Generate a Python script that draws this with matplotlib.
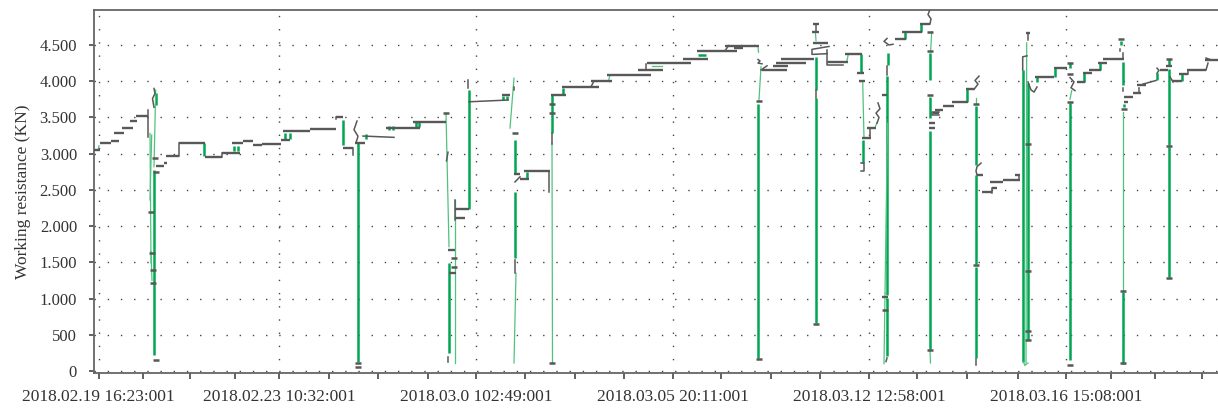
import matplotlib
matplotlib.use("Agg")
import matplotlib.pyplot as plt

# ---------------- data (x = record number, y = working resistance in KN) ----------------
x_tick_labels = ["2018.02.19 16:23:001", "2018.02.23 10:32:001", "2018.03.0 102:49:001",
                 "2018.03.05 20:11:001", "2018.03.12 12:58:001", "2018.03.16 15:08:001"]
x_major = [4.5, 185, 382, 579, 775, 972]
x_minor = [49, 96, 141, 235, 284, 334, 431, 481, 530, 627, 677, 726, 823, 873, 924, 1017, 1061, 1108]
y_ticks = [0, 500, 1000, 1500, 2000, 2500, 3000, 3500, 4000, 4500]
y_tick_labels = ["0", "500", "1.000", "1.500", "2.000", "2.500", "3.000", "3.500", "4.000", "4.500"]

# constant-resistance stretches (start record, end record, KN)
levels = [
    (0, 6, 3050), (6, 17, 3142), (17, 25, 3178), (20, 30, 3289), (28, 39, 3358), (36, 43, 3450),
    (42, 54, 3520),
    (62, 70, 2830), (70, 73, 2870), (72, 85, 2971), (85, 111, 3142), (111, 128, 2957), (128, 146, 3013),
    (138, 149, 3142), (149, 159, 3178), (159, 168, 3119), (168, 187, 3130), (187, 196, 3188),
    (189, 216, 3312), (216, 242, 3335), (242, 249, 3510), (249, 259, 3073), (261, 271, 3142),
    (292, 326, 3358), (319, 352, 3441),
    (354, 361, 1670), (355, 362, 1352), (361, 371, 2107), (361, 375, 2236), (408, 416, 3809),
    (420, 426, 2713), (426, 435, 2650), (430, 456, 2764),
    (457, 472, 3809), (468, 505, 3924), (497, 518, 4002), (513, 557, 4089), (544, 569, 4158),
    (553, 597, 4255), (589, 614, 4310), (603, 643, 4420), (631, 665, 4485), (640, 649, 4465),
    (668, 693, 4154), (679, 694, 4213), (682, 712, 4255), (687, 720, 4306),
    (718.5, 724.5, 4790), (718, 725, 4683), (719, 734, 4530), (733, 754, 4268), (751, 768, 4370),
    (763, 770, 4108), (765, 771, 4006), (768, 777, 3211), (773, 782, 3358),
    (788, 793, 3809), (787.5, 794, 1025), (801, 812, 4580), (808, 828, 4683), (826, 836, 4790),
    (835, 841, 3420), (835, 841, 3360), (839, 845, 3556), (841, 849, 3600), (849, 860, 3657),
    (858, 874, 3716), (872, 880, 3887), (882.5, 889, 2705), (888, 898, 2475), (898, 903, 2521),
    (896, 909, 2612), (909, 926, 2636), (921, 926, 2700), (932, 935.5, 4660),
    (941, 960, 4060), (960, 973, 4188),
    (983, 991, 3995), (989, 998, 4108), (995, 1007, 4154), (1004, 1013, 4255), (1009, 1030, 4306),
    (1030, 1034, 3716), (1030, 1039, 3776), (1039, 1047, 3844), (1043, 1052, 3941),
    (1066, 1074, 4154), (1072, 1078, 4209), (1078, 1088, 4002), (1085, 1094, 4094),
    (1093, 1112, 4154), (1111, 1124, 4292),
]

# irregular grey traces (records, KN)
grey_traces = [
    [(54, 3230), (54, 3600)],
    [(60, 3640), (58.5, 3760), (61, 3830), (60, 3900)],
    [(85, 2971), (85, 3142)], [(128, 2957), (128, 3013)], [(242, 3473), (242, 3510)],
    [(259, 2980), (259, 3073)],
    [(263, 3450), (260, 3330), (264, 3240), (262, 3150)],
    [(269, 3243), (300, 3225)],
    [(352.5, 2900), (354, 3020)], [(353.5, 120), (353.5, 190)],
    [(361, 2084), (361, 2360)], [(374, 3905), (374, 4016)], [(375, 3716), (414, 3740)],
    [(420, 3880), (420, 3920)], [(421, 2610), (426, 2680)], [(455, 2475), (455, 2764)],
    [(421, 1350), (421, 1530)], [(458, 3140), (458, 3285)],
    [(497, 3924), (500, 4002)], [(552, 4158), (552, 4240)], [(631, 4420), (634, 4480)],
    [(664, 4300), (666, 4280), (664, 4250), (668, 4240)], [(667, 4154), (673, 4213)],
    [(721.7, 4700), (721.7, 4790)], [(735, 4480), (718, 4440), (718, 4370), (733, 4380)],
    [(721.7, 3770), (721.7, 3880)],
    [(733.3, 4430), (733.3, 4220), (749, 4220)],
    [(767, 2870), (769.5, 2870), (769.5, 2760), (767, 2760)], [(776, 3211), (776, 3358)],
    [(783, 3420), (785, 3500), (782, 3560), (786, 3620), (784, 3700)],
    [(793, 4590), (790, 4550), (795, 4500), (799, 4510)], [(793.3, 4085), (793.3, 4210)],
    [(792, 130), (793, 180)],
    [(836, 4790), (837, 4860), (834, 4920), (836, 4990)],
    [(845, 3530), (838, 3530), (838, 3580), (845, 3580)],
    [(880, 3887), (884, 3960), (881, 4010), (885, 4070)],
    [(887, 2870), (883, 2820), (882, 2760), (883, 2705)], [(882, 83), (882, 160)],
    [(897.7, 2460), (897.7, 2521)], [(925.3, 2636), (925.3, 2700)],
    [(933.7, 4570), (933.7, 4660)], [(928.7, 4154), (928.7, 4337), (933, 4350)],
    [(934, 3990), (937, 3880), (940, 3850), (943, 3920)],
    [(976, 4050), (980, 3990), (977, 3910), (981, 3870)],
    [(1029, 4306), (1029, 4383)], [(1026, 4416), (1026, 4450)], [(1029.3, 3860), (1029.3, 3905)],
    [(1045.3, 3844), (1045.3, 3910)], [(1049, 3960), (1062, 4010)],
    [(1063, 4110), (1065, 4150), (1063, 4180)], [(1076, 4060), (1079, 3990)],
    [(1094.3, 4094), (1094.3, 4154)], [(1112, 4154), (1114, 4250)], [(1112, 4320), (1116, 4300)],
]

# green rises / falls drawn bold (start, end) as (records, KN)
green_bold = [
    ((60, 220), (60, 2770)), ((62, 3670), (62, 3840)), ((110, 2971), (110, 3142)),
    ((140, 3040), (140, 3110)), ((144, 3040), (144, 3110)), ((191, 3200), (191, 3290)),
    ((196, 3200), (196, 3290)), ((249, 3119), (249, 3464)), ((264, 130), (264, 3142)),
    ((272, 3200), (272, 3270)), ((295, 3330), (295, 3380)), ((299, 3330), (299, 3380)),
    ((322, 3370), (322, 3440)), ((325, 3370), (325, 3440)),
    ((355, 250), (355, 1490)), ((375, 2236), (375, 3878)), ((409, 3740), (409, 3800)),
    ((413, 3740), (413, 3800)), ((421, 2730), (421, 3188)), ((432.7, 2660), (432.7, 2740)),
    ((421, 1555), (421, 2475)), ((458, 3285), (458, 3810)), ((469, 3809), (469, 3900)),
    ((604, 4365), (612, 4365)),
    ((664, 180), (664, 3690)), ((721.7, 3880), (721.7, 4337)), ((721.7, 662), (721.7, 3770)),
    ((767, 4108), (767, 4370)), ((769.3, 2870), (769.3, 3190)),
    ((793.7, 4220), (793.7, 4390)), ((793.3, 1050), (793.3, 4070)), ((793, 200), (793, 1007)),
    ((810.7, 4580), (810.7, 4683)), ((826.7, 4683), (826.7, 4790)),
    ((836, 4015), (836, 4390)), ((836, 3490), (836, 3785)), ((836, 300), (836, 3312)),
    ((872.7, 3716), (872.7, 3887)), ((882, 2843), (882, 3657)), ((882, 1480), (882, 2705)),
    ((882, 180), (882, 1440)),
    ((929, 124), (929, 4154)), ((933.7, 430), (933.7, 3970)),
    ((942.7, 3990), (942.7, 4060)), ((961, 4060), (961, 4188)),
    ((976, 4180), (976, 4255)), ((976, 150), (976, 3694)),
    ((990, 3995), (990, 4108)), ((1006, 4154), (1006, 4255)), ((1027, 4500), (1027, 4560)),
    ((1029.3, 3947), (1029.3, 4270)), ((1030, 3640), (1030, 3680)), ((1029.3, 100), (1029.3, 1090)),
    ((1062.7, 4020), (1062.7, 4110)),
    ((1075.3, 4230), (1075.3, 4310)), ((1075.3, 3119), (1075.3, 4170)), ((1075.3, 1300), (1075.3, 3090)),
    ((1088.3, 4002), (1088.3, 4094)),
]

# fast transitions drawn thin (start, end) as (records, KN)
green_thin = [
    ((4, 3050), (5, 3110)), ((56, 3280), (57, 1490)), ((61.7, 3878), (60, 2820)),
    ((57.7, 3257), (56, 2360)), ((58, 1250), (57, 1650)),
    ((352, 3556), (355, 1715)), ((361, 110), (361, 2360)),
    ((416, 3353), (420, 4043)), ((422, 1350), (420, 110)),
    ((458, 3142), (458.5, 110)), ((514.5, 4002), (516, 4089)), ((558, 4213), (568, 4213)),
    ((664, 4480), (664.5, 4400)), ((667, 4200), (665, 3740)),
    ((722, 4560), (721.5, 4660)), ((752.7, 4268), (754.3, 4370)),
    ((768.7, 3995), (770, 3210)), ((781, 3358), (782.7, 3420)),
    ((793.5, 3420), (791, 1072)), ((791, 1072), (790, 100)),
    ((837.7, 4683), (836.7, 4430)), ((836, 290), (836.5, 110)),
    ((882, 3770), (882, 3700)),
    ((932.7, 4530), (932, 110)), ((929, 130), (931, 80)), ((931, 80), (934, 110)),
    ((977.7, 3870), (976, 3750)), ((1029.3, 3580), (1029.3, 1120)),
]

# short grey marks (records, KN)
mark_x = [61, 62, 62, 57, 58, 59, 59, 264, 264, 352, 360, 360, 421, 458, 458, 458, 664.5, 664.5,
          721.7, 836, 836, 836, 882, 882, 933.7, 933.7, 933.7, 933.7, 976, 976, 976, 976,
          1027, 1029.5, 1029.3, 1029.3, 1075.3, 1075.3, 1075.3, 836, 791]
mark_y = [2934, 2750, 150, 2198, 1628, 1394, 1214, 110, 55, 3560, 1560, 1435, 3280, 3560, 3685, 110,
          3730, 165, 650, 4683, 4415, 290, 3680, 1463, 3140, 1385, 550, 428, 4100, 3707, 83, 4255,
          4580, 3616, 1108, 105, 4306, 3105, 1283, 3809, 840]

# ---------------- drawing ----------------
W, H, DPI = 1218, 413, 100
grey = "#585858"
green = "#00a651"
light_green = "#4fc27e"
font = "Liberation Serif"

fig = plt.figure(figsize=(W / DPI, H / DPI), dpi=DPI)
ax = fig.add_axes([94 / W, 1 - 373 / H, (W - 94) / W, (373 - 10) / H])

for x0, x1, v in levels:
    ax.plot([x0, x1], [v, v], color=grey, lw=1.7, solid_capstyle="butt", zorder=3)
for tr in grey_traces:
    ax.plot([p[0] for p in tr], [p[1] for p in tr], color=grey, lw=1.1, zorder=3)
for (x0, y0), (x1, y1) in green_bold:
    ax.plot([x0, x1], [y0, y1], color=green, lw=1.8, solid_capstyle="butt", zorder=2)
for (x0, y0), (x1, y1) in green_thin:
    ax.plot([x0, x1], [y0, y1], color=light_green, lw=0.9, zorder=2)
ax.plot(mark_x, mark_y, linestyle="none", marker="_", ms=5, mew=1.8, color=grey, zorder=4)

ax.set_xlim(0, 1124)
ax.set_ylim(-28, 4983)

ax.set_xticks(x_major)
ax.set_xticklabels(x_tick_labels, fontfamily=font, fontsize=12.5, color="#333333")
ax.set_xticks(x_minor, minor=True)
ax.set_yticks(y_ticks)
ax.set_yticklabels(y_tick_labels, fontfamily=font, fontsize=12, color="#333333")
ax.tick_params(axis="x", which="both", direction="out", length=4.3, width=1.3, color="#555555", pad=7)
ax.tick_params(axis="y", which="both", direction="out", length=3.6, width=1.3, color="#555555", pad=8.6)

ax.grid(True, axis="both", which="major", color="#444444", linestyle=(0, (1, 8.5)), linewidth=1.0)
ax.set_axisbelow(True)

for side in ("left", "top", "bottom"):
    ax.spines[side].set_color("#666666")
    ax.spines[side].set_linewidth(1.3)
ax.spines["right"].set_visible(False)

ax.set_ylabel("Working resistance (KN)", fontfamily=font, fontsize=12.5, color="#333333", labelpad=6)

fig.savefig("out.png", dpi=DPI)
